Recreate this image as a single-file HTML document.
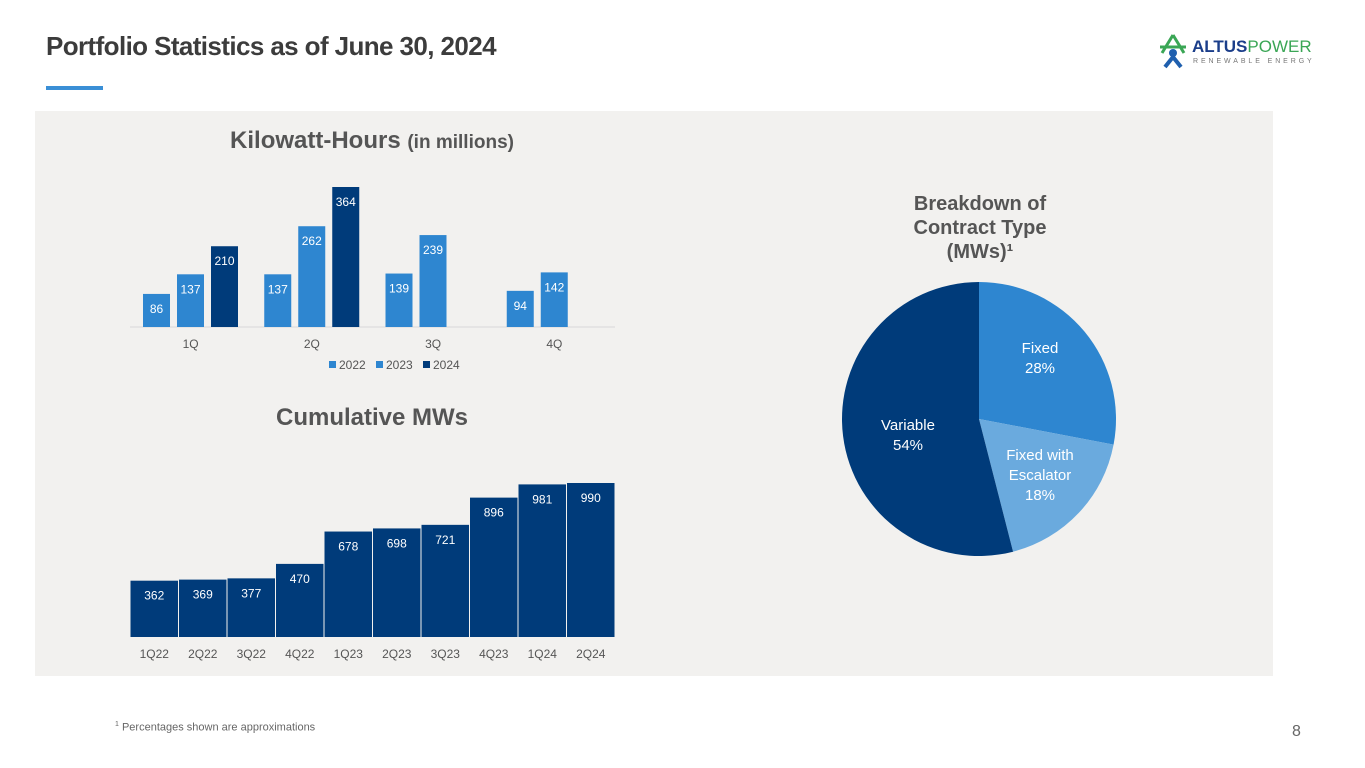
<!DOCTYPE html>
<html><head><meta charset="utf-8"><style>
body{margin:0;width:1365px;height:768px;background:#fff;font-family:"Liberation Sans",sans-serif;position:relative;overflow:hidden}
.t{position:absolute;white-space:nowrap}
</style></head><body>
<div class="t" style="left:46px;top:31px;font-size:26px;font-weight:bold;color:#3c3c3c;letter-spacing:-0.6px">Portfolio Statistics as of June 30, 2024</div>
<div class="t" style="left:46px;top:86px;width:57px;height:4px;background:#3a8fd6"></div>
<div class="t" style="left:1158px;top:33px;width:160px;height:40px">
<svg width="30" height="36" style="position:absolute;left:0;top:0"><path d="M15 2 L4 20 M15 2 L26 20 M2 14 L28 14" stroke="#3aa655" stroke-width="3" fill="none"/><circle cx="15" cy="20" r="4" fill="#1f5fae"/><path d="M7 34 L15 24 L23 34" stroke="#1f5fae" stroke-width="4" fill="none"/></svg>
<div class="t" style="left:34px;top:4px;font-size:17px;font-weight:bold;color:#1b3e8a">ALTUS<span style="font-weight:normal;color:#3aa655">POWER</span></div>
<div class="t" style="left:35px;top:25px;font-size:7px;letter-spacing:2.9px;color:#777">RENEWABLE ENERGY</div>
</div>
<div class="t" style="left:35px;top:111px;width:1238px;height:565px;background:#f2f1ef"></div>
<svg class="t" style="left:0;top:0" width="1365" height="768" id="svg"></svg>
<div class="t" style="left:115px;top:721px;font-size:11px;color:#666"><sup style="font-size:7px">1</sup> Percentages shown are approximations</div>
<div class="t" style="left:1292px;top:723px;font-size:16px;color:#666">8</div>
<script>
const quarters=["1Q","2Q","3Q","4Q"];
const years=["2022","2023","2024"];
const kwh2022=[86,137,139,94];
const kwh2023=[137,262,239,142];
const kwh2024=[210,364,null,null];
const mwCats=["1Q22","2Q22","3Q22","4Q22","1Q23","2Q23","3Q23","4Q23","1Q24","2Q24"];
const mwVals=[362,369,377,470,678,698,721,896,981,990];
const pieLabels=[["Fixed","28%"],["Fixed with","Escalator","18%"],["Variable","54%"]];
const pieVals=[28,18,54];

const NS="http://www.w3.org/2000/svg",svg=document.getElementById('svg');
function mk(tag,a,txt){const e=document.createElementNS(NS,tag);for(const k in a)e.setAttribute(k,a[k]);if(txt!=null)e.textContent=txt;svg.appendChild(e);return e;}
const F='"Liberation Sans",sans-serif';
let e=mk('text',{x:372,y:148,'text-anchor':'middle','font-family':F,'font-size':24,'font-weight':'bold',fill:'#555'});

e.innerHTML='Kilowatt-Hours <tspan font-size="19">(in millions)</tspan>';
e=mk('text',{x:372,y:425,'text-anchor':'middle','font-family':F,'font-size':24,'font-weight':'bold',fill:'#555'},'Cumulative MWs');

['Breakdown of','Contract Type','(MWs)¹'].forEach((s,i)=>{e=mk('text',{x:980,y:210+i*24,'text-anchor':'middle','font-family':F,'font-size':20,'font-weight':'bold',fill:'#555'},s);
});

const kx0=130,kx1=615,kBase=327,kScale=140/364,gW=(kx1-kx0)/4;
const kCols=['#2e86d0','#2e86d0','#003b7a'];
const ky=v=>kBase-v*kScale;
mk('line',{x1:kx0,x2:kx1,y1:kBase,y2:kBase,stroke:'#d8d8d8'});
const series=[kwh2022,kwh2023,kwh2024];
quarters.forEach((q,i)=>{
 const gx=kx0+i*gW;
 e=mk('text',{x:gx+gW/2,y:348,'text-anchor':'middle','font-family':F,'font-size':12,fill:'#555'},q);
 
 series.forEach((s,j)=>{
  const v=s[i];if(v==null)return;
  const x=gx+13+j*34;
  const r=mk('rect',{x:x,y:ky(v),width:27,height:v*kScale,fill:kCols[j]});
  
  const t=mk('text',{x:x+13.5,y:ky(v)+19,'text-anchor':'middle','font-family':F,'font-size':12,fill:'#fff'},v);
  
 });
});
years.forEach((y,j)=>{
 const x=329+j*47;
 const r=mk('rect',{x:x,y:361,width:7,height:7,fill:kCols[j]});
 
 const t=mk('text',{x:x+10,y:369,'font-family':F,'font-size':12,fill:'#555'},y);
 
});

const mx0=130,mx1=615,mBase=637,mScale=154/990,bw=(mx1-mx0)/mwCats.length;
mwCats.forEach((c,i)=>{
 const v=mwVals[i],x=mx0+i*bw,h=v*mScale;
 const r=mk('rect',{x:x+0.5,y:mBase-h,width:bw-1,height:h,fill:'#003b7a'});
 
 const t=mk('text',{x:x+bw/2,y:mBase-h+19,'text-anchor':'middle','font-family':F,'font-size':12,fill:'#fff'},v);
 
 const l=mk('text',{x:x+bw/2,y:658,'text-anchor':'middle','font-family':F,'font-size':12,fill:'#555'},c);
 
});

const cx=979,cy=419,R=137,pCols=['#2e86d0','#6aaade','#003b7a'];
const tot=pieVals.reduce((a,b)=>a+b,0);let a0=-Math.PI/2;
const labPos=[[1040,358],[1040,475],[908,435]];
pieVals.forEach((v,i)=>{
 const a1=a0+v/tot*2*Math.PI;
 const p=mk('path',{d:`M${cx},${cy} L${cx+R*Math.cos(a0)},${cy+R*Math.sin(a0)} A${R},${R} 0 ${a1-a0>Math.PI?1:0} 1 ${cx+R*Math.cos(a1)},${cy+R*Math.sin(a1)} Z`,fill:pCols[i]});
 
 const lines=pieLabels[i],n=lines.length;
 lines.forEach((s,k)=>{
  const t=mk('text',{x:labPos[i][0],y:labPos[i][1]+(k-(n-1)/2)*20+5,'text-anchor':'middle','font-family':F,'font-size':15,fill:'#fff'},s);
  
 });
 a0=a1;
});
</script>
</body></html>
